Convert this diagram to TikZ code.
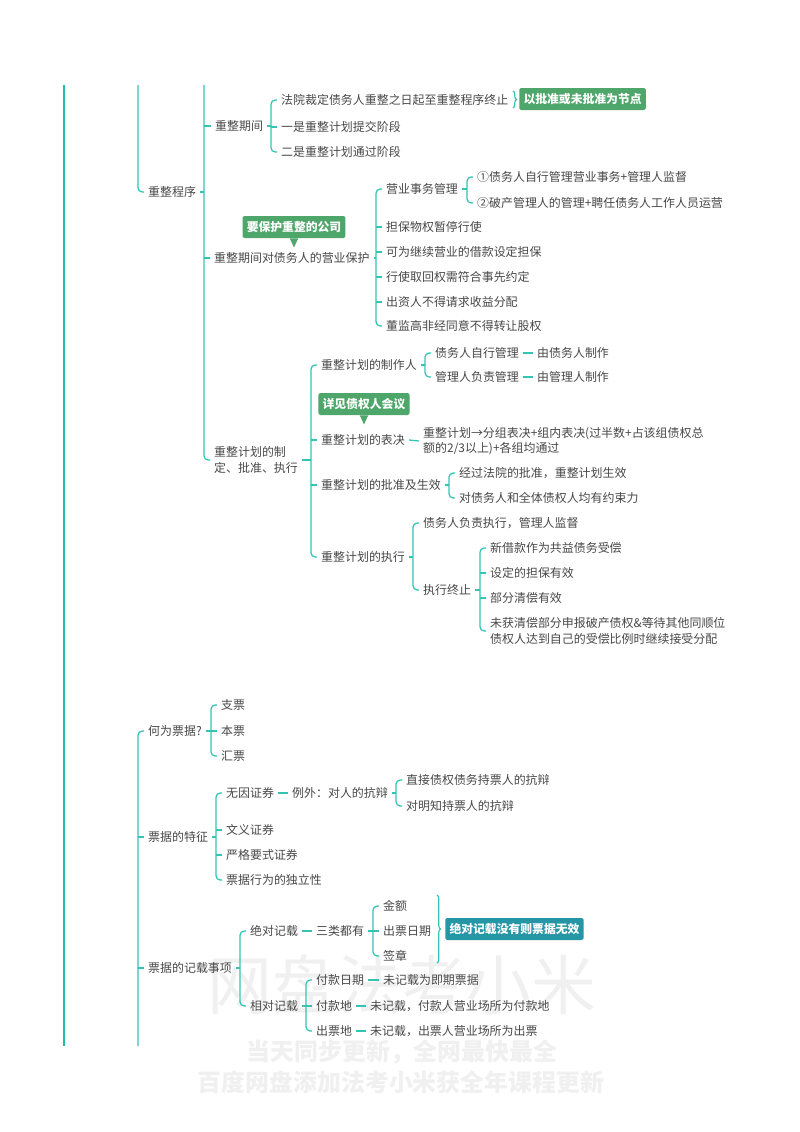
\documentclass[tikz,border=0pt]{standalone}
\usepackage{fontspec}
\setmainfont{Noto Sans CJK SC}
\usetikzlibrary{calc,decorations.pathreplacing}

\definecolor{branch}{RGB}{52,196,180}
\definecolor{trunkc}{RGB}{32,190,176}
\definecolor{txtgray}{RGB}{72,72,72}
\definecolor{notegreen}{RGB}{78,166,106}
\definecolor{noteteal}{RGB}{36,150,166}
\definecolor{wmark}{RGB}{240,240,240}

\tikzset{
  txt/.style={anchor=west, inner xsep=2.8pt, inner ysep=1pt, text=txtgray,
    font=\fontsize{8.5pt}{11pt}\selectfont, align=left},
  br/.style={draw=branch, line width=0.9pt, rounded corners=3pt},
  trunk/.style={draw=trunkc, line width=1.5pt},
  brc/.style={draw=branch, line width=0.8pt, decorate, decoration={brace, amplitude=2.5pt}},
  notebox/.style={fill=notegreen, text=white, font=\fontsize{8.4pt}{10pt}\selectfont\bfseries,
    inner xsep=3pt, minimum height=0.55cm, rounded corners=1.2pt},
  wm/.style={text=wmark}
}

\begin{document}
\begin{tikzpicture}[x=0.025cm, y=-0.025cm]

  % Page
  \fill[white] (0,0) rectangle (800,1132);
  \useasboundingbox (0,0) rectangle (800,1132);

  % Watermark
  \node[wm, font=\fontsize{46pt}{46pt}\selectfont] (wm1) at (402,985) {网盘法考小米};
  \node[wm, font=\fontsize{17pt}{17pt}\selectfont\bfseries] (wm2) at (402,1052) {当天同步更新，全网最快最全};
  \node[wm, font=\fontsize{17pt}{17pt}\selectfont\bfseries] (wm3) at (401,1082) {百度网盘添加法考小米获全年课程更新};

  % Trunk lines
  \coordinate (ltop) at (64,85);
  \coordinate (lbot) at (64,1046);
  \coordinate (atop) at (138,85);
  \coordinate (abot) at (138,1046);
  \coordinate (btop) at (204,85);
  \draw[trunk] (ltop) -- (lbot);

  % Reorganisation procedure
  \node[txt] (jzcx) at (144,192) {重整程序};
  \node[txt] (zqqj) at (211,126) {重整期间};
  \node[txt] (fycd) at (277,100) {法院裁定债务人重整之日起至重整程序终止};
  \node[txt] (tjjd) at (277,127) {一是重整计划提交阶段};
  \node[txt] (tgjd) at (277,152) {二是重整计划通过阶段};
  \node[notebox, anchor=west] (jd) at (519,99) {以批准或未批准为节点};
  \draw[brc] (513,91) -- (513,108);

  \node[txt] (yybh) at (210,258) {重整期间对债务人的营业保护};
  \node[notebox] (bh) at (294,227) {要保护重整的公司};
  \fill[notegreen] ([xshift=-3pt]bh.south) -- ([yshift=-6.5pt]bh.south) -- ([xshift=3pt]bh.south) -- cycle;
  \node[txt] (yysw) at (382,189) {营业事务管理};
  \node[txt] (zx1) at (473,177) {①债务人自行管理营业事务+管理人监督};
  \node[txt] (zx2) at (473,203) {②破产管理人的管理+聘任债务人工作人员运营};
  \node[txt] (dbwq) at (382,227) {担保物权暂停行使};
  \node[txt] (jkdb) at (382,252) {可为继续营业的借款设定担保};
  \node[txt] (qhq) at (382,277) {行使取回权需符合事先约定};
  \node[txt] (czr) at (382,302) {出资人不得请求收益分配};
  \node[txt] (djg) at (382,326) {董监高非经同意不得转让股权};

  \node[txt] (zdpz) at (210,460) {重整计划的制\\定、批准、执行};
  \node[txt] (zzr) at (317,365) {重整计划的制作人};
  \node[txt] (zxgl) at (431,353) {债务人自行管理};
  \node[txt] (zwzz) at (533,353) {由债务人制作};
  \node[txt] (glfz) at (431,377) {管理人负责管理};
  \node[txt] (glzz) at (533,377) {由管理人制作};
  \node[notebox] (zqh) at (364,404) {详见债权人会议};
  \fill[notegreen] ([xshift=-3pt]zqh.south) -- ([yshift=-6.5pt]zqh.south) -- ([xshift=3pt]zqh.south) -- cycle;
  \node[txt] (bj) at (317,440) {重整计划的表决};
  \node[txt] (bjnr) at (419,441) {重整计划→分组表决+组内表决(过半数+占该组债权总\\额的2/3以上)+各组均通过};
  \node[txt] (pzsx) at (317,485) {重整计划的批准及生效};
  \node[txt] (fypz) at (455,473) {经过法院的批准，重整计划生效};
  \node[txt] (ysl) at (455,498) {对债务人和全体债权人均有约束力};
  \node[txt] (zxzx) at (317,557) {重整计划的执行};
  \node[txt] (fzzx) at (419,523) {债务人负责执行，管理人监督};
  \node[txt] (zxzz) at (419,590) {执行终止};
  \node[txt] (xjk) at (486,548) {新借款作为共益债务受偿};
  \node[txt] (sddb) at (486,573) {设定的担保有效};
  \node[txt] (bfqc) at (486,598) {部分清偿有效};
  \node[txt] (whqc) at (486,631) {未获清偿部分申报破产债权\&等待其他同顺位\\债权人达到自己的受偿比例时继续接受分配};

  % Connectors, first part
  \draw[br] (atop) |- (jzcx.west);
  \draw[br] (btop) |- (zdpz.west);
  \draw[br] (jzcx.east) -- (jzcx.east -| btop);
  \draw[br] (zqqj.west) -- (zqqj.west -| btop);
  \draw[br] (yybh.west) -- (yybh.west -| btop);

  \draw[br] (fycd.west) -- ++(-6,0) coordinate (b1) |- (tgjd.west);
  \draw[br] (tjjd.west) -- (tjjd.west -| b1);
  \draw[br] (zqqj.east) -- (zqqj.east -| b1);

  \draw[br] (yysw.west) -- ++(-6,0) coordinate (b2) |- (djg.west);
  \foreach \n in {dbwq,jkdb,qhq,czr}
    \draw[br] (\n.west) -- (\n.west -| b2);
  \draw[br] (yybh.east) -- (yybh.east -| b2);

  \draw[br] (zx1.west) -- ++(-6,0) coordinate (b3) |- (zx2.west);
  \draw[br] (yysw.east) -- (yysw.east -| b3);

  \draw[br] (zzr.west) -- ++(-6,0) coordinate (b4) |- (zxzx.west);
  \draw[br] (bj.west) -- (bj.west -| b4);
  \draw[br] (pzsx.west) -- (pzsx.west -| b4);
  \draw[br] (zdpz.east) -- (zdpz.east -| b4);

  \draw[br] (zxgl.west) -- ++(-6,0) coordinate (b5) |- (glfz.west);
  \draw[br] (zzr.east) -- (zzr.east -| b5);
  \draw[br] (zxgl) -- (zwzz);
  \draw[br] (glfz) -- (glzz);

  \draw[br] (bj.east) -- (bjnr.west);

  \draw[br] (fypz.west) -- ++(-6,0) coordinate (b6) |- (ysl.west);
  \draw[br] (pzsx.east) -- (pzsx.east -| b6);

  \draw[br] (fzzx.west) -- ++(-6,0) coordinate (b7) |- (zxzz.west);
  \draw[br] (zxzx.east) -- (zxzx.east -| b7);

  \draw[br] (xjk.west) -- ++(-6,0) coordinate (b8) |- (whqc.west);
  \draw[br] (sddb.west) -- (sddb.west -| b8);
  \draw[br] (bfqc.west) -- (bfqc.west -| b8);
  \draw[br] (zxzz.east) -- (zxzz.east -| b8);

  % Negotiable instruments
  \node[txt] (hwpj) at (144,731) {何为票据?};
  \node[txt] (zp) at (217,705) {支票};
  \node[txt] (bp) at (217,731) {本票};
  \node[txt] (hp) at (217,756) {汇票};

  \node[txt] (pjtz) at (144,837) {票据的特征};
  \node[txt] (wyzq) at (222,793) {无因证券};
  \node[txt] (lw) at (288,793) {例外：对人的抗辩};
  \node[txt] (zjzq) at (402,780) {直接债权债务持票人的抗辩};
  \node[txt] (mzcp) at (402,806) {对明知持票人的抗辩};
  \node[txt] (wyzq2) at (222,830) {文义证券};
  \node[txt] (ygys) at (222,855) {严格要式证券};
  \node[txt] (dlx) at (222,880) {票据行为的独立性};

  \node[txt] (jzsx) at (144,968) {票据的记载事项};
  \node[txt] (jdjz) at (246,931) {绝对记载};
  \node[txt] (slds) at (312,931) {三类都有};
  \node[txt] (je) at (379,906) {金额};
  \node[txt] (cprq) at (379,931) {出票日期};
  \node[txt] (qz) at (379,956) {签章};
  \node[notebox, fill=noteteal, anchor=west] (wx) at (445,929) {绝对记载没有则票据无效};
  \draw[brc] (437,895) -- (437,963);
  \node[txt] (xdjz) at (246,1006) {相对记载};
  \node[txt] (fkrq) at (312,980) {付款日期};
  \node[txt] (jqpj) at (379,980) {未记载为即期票据};
  \node[txt] (fkd) at (312,1006) {付款地};
  \node[txt] (fkdx) at (366,1006) {未记载，付款人营业场所为付款地};
  \node[txt] (cpd) at (312,1031) {出票地};
  \node[txt] (cpdx) at (366,1031) {未记载，出票人营业场所为出票};

  % Connectors, second part
  \draw[br] (hwpj.west) -| (abot);
  \draw[br] (pjtz.west) -- (pjtz.west -| abot);
  \draw[br] (jzsx.west) -- (jzsx.west -| abot);

  \draw[br] (zp.west) -- ++(-6,0) coordinate (c1) |- (hp.west);
  \draw[br] (bp.west) -- (bp.west -| c1);
  \draw[br] (hwpj.east) -- (hwpj.east -| c1);

  \draw[br] (wyzq.west) -- ++(-6,0) coordinate (c2) |- (dlx.west);
  \draw[br] (wyzq2.west) -- (wyzq2.west -| c2);
  \draw[br] (ygys.west) -- (ygys.west -| c2);
  \draw[br] (pjtz.east) -- (pjtz.east -| c2);
  \draw[br] (wyzq) -- (lw);

  \draw[br] (zjzq.west) -- ++(-6,0) coordinate (c3) |- (mzcp.west);
  \draw[br] (lw.east) -- (lw.east -| c3);

  \draw[br] (jdjz.west) -- ++(-6,0) coordinate (c4) |- (xdjz.west);
  \draw[br] (jzsx.east) -- (jzsx.east -| c4);
  \draw[br] (jdjz) -- (slds);

  \draw[br] (je.west) -- ++(-6,0) coordinate (c5) |- (qz.west);
  \draw[br] (cprq.west) -- (cprq.west -| c5);
  \draw[br] (slds.east) -- (slds.east -| c5);

  \draw[br] (fkrq.west) -- ++(-6,0) coordinate (c6) |- (cpd.west);
  \draw[br] (fkd.west) -- (fkd.west -| c6);
  \draw[br] (xdjz.east) -- (xdjz.east -| c6);
  \draw[br] (fkrq) -- (jqpj);
  \draw[br] (fkd) -- (fkdx);
  \draw[br] (cpd) -- (cpdx);

\end{tikzpicture}
\end{document}
